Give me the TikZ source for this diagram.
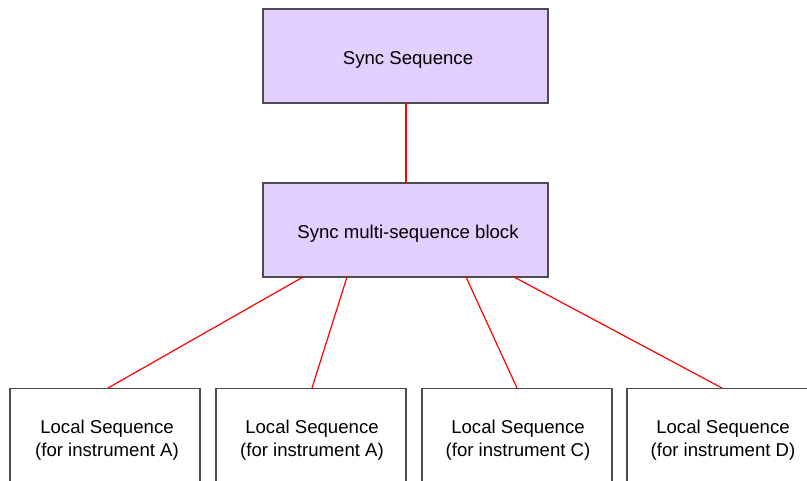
\documentclass[tikz,border=0pt]{standalone}
\usepackage{fontspec}
\setmainfont{Liberation Sans}
\begin{document}
\begin{tikzpicture}[x=1pt,y=-1pt,
  txt/.style={font=\fontsize{18.6}{22.5}\selectfont, align=center},
  syncbox/.style={draw=black!70, line width=1.3pt, fill=syncfill, minimum width=285pt, minimum height=94pt, inner sep=0pt, txt},
  localbox/.style={draw=black!70, line width=1.3pt, fill=white, minimum width=190pt, minimum height=120pt, inner sep=0pt},
  link/.style={draw=red, color=red, line width=1.2pt}]
\definecolor{syncfill}{RGB}{226,206,255}
\useasboundingbox (0,0) rectangle (807,480);
\node[syncbox] (sync) at (405.5,56) {};
\node[txt] (synct) at (408,60) {Sync Sequence};
\node[syncbox] (multi) at (405.5,230) {};
\node[txt] (multit) at (408,234) {Sync multi-sequence block};
\node[localbox, anchor=north] (la) at (105,388) {};
\node[localbox, anchor=north] (lb) at (311,388) {};
\node[localbox, anchor=north] (lc) at (517,388) {};
\node[localbox, anchor=north] (ld) at (722,388) {};
\node[txt] (ta) at (107,440) {Local Sequence\\(for instrument A)};
\node[txt] (tb) at (312,440) {Local Sequence\\(for instrument A)};
\node[txt] (tc) at (518,440) {Local Sequence\\(for instrument C)};
\node[txt] (td) at (723,440) {Local Sequence\\(for instrument D)};
\coordinate (s0) at (406,103);
\coordinate (m0) at (406,183);
\coordinate (m1) at (303,277);
\coordinate (m2) at (347,277);
\coordinate (m3) at (466,277);
\coordinate (m4) at (514,277);
\coordinate (a1) at (108,388);
\coordinate (a2) at (312,388);
\coordinate (a3) at (517,388);
\coordinate (a4) at (722,388);
\draw[link] (s0) -- (m0);
\draw[link] (m1) -- (a1);
\draw[link] (m2) -- (a2);
\draw[link] (m3) -- (a3);
\draw[link] (m4) -- (a4);
\end{tikzpicture}
\end{document}
